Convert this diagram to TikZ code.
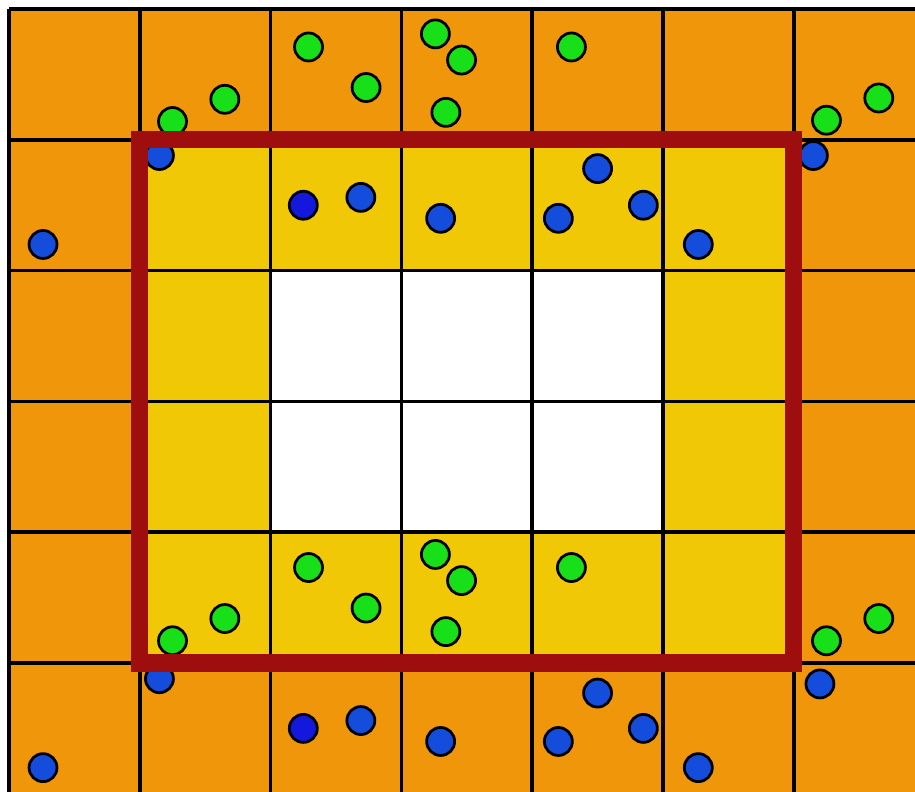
\documentclass[tikz,border=0pt]{standalone}
\usepackage{xcolor}
\usepackage{tikz}
\definecolor{cellouter}{HTML}{F0960A}
\definecolor{cellinner}{HTML}{F0C805}
\definecolor{ptgreen}{HTML}{18E018}
\definecolor{ptblue}{HTML}{144CDC}
\definecolor{ptdeep}{HTML}{1418DC}
\definecolor{boxred}{HTML}{9E0E0E}

\begin{document}
\begin{tikzpicture}[
        x=1cm, y=-1cm,
        gridline/.style={black, line width=0.8pt},
        pt/.style={draw=black, line width=0.6pt},
        frame/.style={boxred, line width=3.7pt, line join=miter}
    ]
    \useasboundingbox (-0.069,-0.069) rectangle (6.927,5.986);
    \clip (-0.069,-0.069) rectangle (6.927,5.986);

    % ============ cells ============
    \fill[cellouter] (0,0) rectangle (7.2,6.2);
    \fill[cellinner] (1,1) rectangle (6,5);
    \fill[white]     (2,2) rectangle (5,4);

    \foreach \x in {0,...,6} \draw[gridline] (\x,0) -- (\x,6.2);
    \foreach \y in {0,...,5} \draw[gridline] (0,\y) -- (7.2,\y);

    % ============ points ============
    \foreach \p in {(2.29,0.29),(2.73,0.60),(3.26,0.19),(3.46,0.39),(3.34,0.79),
                    (4.30,0.29),(1.65,0.69),(1.25,0.86),(6.25,0.85),(6.65,0.68),
                    (2.29,4.27),(2.73,4.58),(3.26,4.17),(3.46,4.37),(3.34,4.76),
                    (4.30,4.27),(1.65,4.66),(1.25,4.83),(6.25,4.83),(6.65,4.66)}
    \filldraw[pt, fill=ptgreen] \p circle (0.107);

    \foreach \p in {(1.15,1.12),(0.26,1.80),(2.69,1.44),(3.30,1.60),(4.50,1.22),
                    (4.20,1.60),(4.85,1.50),(5.27,1.80),(6.15,1.12),
                    (1.15,5.12),(0.26,5.80),(2.69,5.44),(3.30,5.60),(4.50,5.23),
                    (4.20,5.60),(4.85,5.50),(5.27,5.80),(6.20,5.16)}
    \filldraw[pt, fill=ptblue] \p circle (0.107);

    \filldraw[pt, fill=ptdeep] (2.25,1.50) circle (0.107);
    \filldraw[pt, fill=ptdeep] (2.25,5.50) circle (0.107);

    % ============ window ============
    \draw[frame] (1,1) rectangle (6,5);
\end{tikzpicture}
\end{document}
